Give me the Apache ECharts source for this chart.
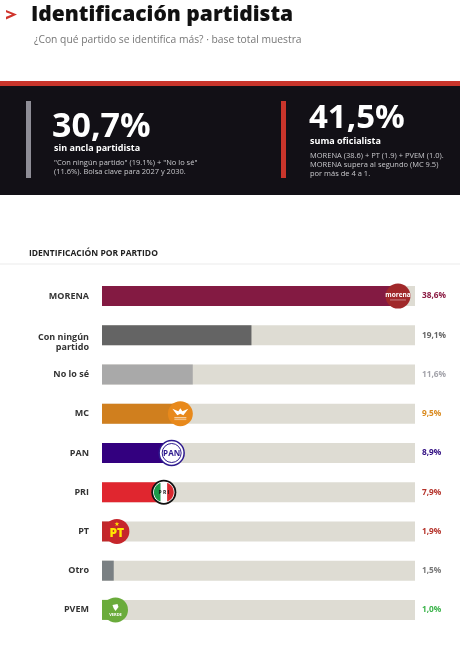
<!DOCTYPE html>
<html lang="es">
<head>
<meta charset="UTF-8">
<title>Identificación partidista</title>
<script src="https://cdn.jsdelivr.net/npm/echarts@6.0.0/dist/echarts.min.js"></script>
<style>
  html, body { margin: 0; padding: 0; background: #fff; }
  #main { width: 460px; height: 647px; }
</style>
</head>
<body>
<div id="main"></div>
<script>
// data
const categories = ['MORENA', 'Con ningún\npartido', 'No lo sé', 'MC', 'PAN', 'PRI', 'PT', 'Otro', 'PVEM'];
const values = [38.6, 19.1, 11.6, 9.5, 8.9, 7.9, 1.9, 1.5, 1.0];
const barColors = ['#831a42', '#646464', '#a9a9a9', '#d07f1e', '#33007f', '#e0262f', '#c0282a', '#7a8083', '#6aab3b'];
const labelColors = ['#8b1a42', '#666666', '#a3a3aa', '#d98a1f', '#2e0a80', '#b5332b', '#b5332b', '#777777', '#3cb44b'];
const logos = ['morena', null, null, 'mc', 'pan', 'pri', 'pt', null, 'pvem'];
const axisMax = 40;

const FONT = '"Open Sans", "Noto Sans", sans-serif';
const chart = echarts.init(document.getElementById('main'));

function fmt(v) {
  return v.toFixed(1).replace('.', ',') + '%';
}

// points of a circle segment cut by a vertical chord at offset d (side -1 left, 1 right)
function segment(cx, cy, r, d, side) {
  const a0 = Math.acos(d / r);
  const pts = [];
  for (let i = 0; i <= 20; i++) {
    const a = side > 0 ? -a0 + (2 * a0 * i) / 20 : a0 + ((2 * Math.PI - 2 * a0) * i) / 20;
    pts.push([cx + r * Math.cos(a), cy + r * Math.sin(a)]);
  }
  return pts;
}

function centered(text, x, y, font, fill) {
  return { type: 'text', style: { text, x, y, fill, font, align: 'center', verticalAlign: 'middle', textAlign: 'center', textVerticalAlign: 'middle' } };
}

function renderLogo(params, api) {
  const idx = api.value(1);
  const kind = logos[idx];
  if (!kind) return;
  const r = 12.5;
  const start = api.coord([0, idx]);
  const end = api.coord([api.value(0), idx]);
  const trackEnd = api.coord([axisMax, idx])[0];
  let cx = Math.min(Math.max(end[0], start[0] + r + 1), trackEnd - 17);
  if (kind === 'mc') cx += 4;
  const cy = end[1];
  const kids = [];
  if (kind === 'morena') {
    kids.push({ type: 'circle', shape: { cx, cy, r }, style: { fill: '#a0282a' } });
    kids.push(centered('morena', cx, cy - 1, 'bold 6.5px ' + FONT, '#fff'));
    kids.push({ type: 'rect', shape: { x: cx - 8, y: cy + 3.5, width: 16, height: 0.7 }, style: { fill: 'rgba(255,255,255,0.6)' } });
  } else if (kind === 'mc') {
    kids.push({ type: 'circle', shape: { cx, cy, r }, style: { fill: '#e8891b' } });
    kids.push({ type: 'polygon', shape: { points: [[cx - 8, cy - 5], [cx - 2, cy - 2.5], [cx, cy - 5.5], [cx + 2, cy - 2.5], [cx + 8, cy - 5], [cx + 3, cy + 1.5], [cx, cy], [cx - 3, cy + 1.5]] }, style: { fill: '#fff' } });
    kids.push({ type: 'rect', shape: { x: cx - 6, y: cy + 3.5, width: 12, height: 1 }, style: { fill: 'rgba(255,255,255,0.8)' } });
    kids.push({ type: 'rect', shape: { x: cx - 6, y: cy + 5.5, width: 12, height: 0.8 }, style: { fill: 'rgba(255,255,255,0.6)' } });
  } else if (kind === 'pan') {
    kids.push({ type: 'circle', shape: { cx, cy, r }, style: { fill: '#fff', stroke: '#2e1a8e', lineWidth: 1.5 } });
    kids.push({ type: 'circle', shape: { cx, cy, r: r - 3 }, style: { fill: '#fff', stroke: '#2e1a8e', lineWidth: 1 } });
    kids.push(centered('PAN', cx, cy + 0.5, 'bold 8px ' + FONT, '#2e1a8e'));
  } else if (kind === 'pri') {
    kids.push({ type: 'circle', shape: { cx, cy, r }, style: { fill: '#111' } });
    kids.push({ type: 'circle', shape: { cx, cy, r: r - 1.8 }, style: { fill: '#fff' } });
    kids.push({ type: 'polygon', shape: { points: segment(cx, cy, r - 2.6, -3.3, -1) }, style: { fill: '#1d9a4a' } });
    kids.push({ type: 'polygon', shape: { points: segment(cx, cy, r - 2.6, 3.3, 1) }, style: { fill: '#d8282e' } });
    kids.push(centered('P R I', cx, cy, 'bold 5px ' + FONT, '#111'));
  } else if (kind === 'pt') {
    kids.push({ type: 'circle', shape: { cx, cy, r }, style: { fill: '#c6262b' } });
    kids.push(centered('PT', cx, cy + 2.5, '900 12px ' + FONT, '#ffe600'));
    kids.push(centered('★', cx, cy - 7, '6px "DejaVu Sans"', '#ffe600'));
  } else if (kind === 'pvem') {
    kids.push({ type: 'circle', shape: { cx, cy, r }, style: { fill: '#6aab3b' } });
    kids.push({ type: 'polygon', shape: { points: [[cx - 3, cy - 5], [cx + 2, cy - 6], [cx + 3, cy - 3], [cx, cy + 1], [cx - 2, cy - 2]] }, style: { fill: '#fff' } });
    kids.push(centered('VERDE', cx, cy + 4.5, 'bold 4px ' + FONT, '#fff'));
  }
  return { type: 'group', children: kids };
}

function txt(text, x, y, font, fill) {
  return { type: 'text', x: x, y: y, style: { text: text, font: font, fill: fill, textVerticalAlign: 'middle', verticalAlign: 'middle' } };
}

// two-line labels sit a little lower than the bar centre in the reference
function catLabel(value) {
  if (value.indexOf('\n') < 0) return '{d|' + value + '}';
  return '{s| }\n' + value.split('\n').map(s => '{d|' + s + '}').join('\n');
}

const option = {
  animation: false,
  backgroundColor: '#fff',
  graphic: [
    { type: 'polygon', shape: { points: [[6, 10], [17, 14.5], [6, 19.5], [6, 16.8], [12, 14.5], [6, 12.2]] }, style: { fill: '#d0342c' } },
    txt('Identificación partidista', 31, 15, '900 21px ' + FONT, '#111'),
    txt('¿Con qué partido se identifica más? · base total muestra', 34, 40, '10.3px ' + FONT, '#777'),
    { type: 'rect', shape: { x: 0, y: 81, width: 460, height: 5 }, style: { fill: '#c9352b' } },
    { type: 'rect', shape: { x: 0, y: 86, width: 460, height: 109 }, style: { fill: '#121016' } },
    { type: 'rect', shape: { x: 26, y: 101, width: 5, height: 77 }, style: { fill: '#8e8d96' } },
    txt('30,7%', 52, 127, 'bold 34px ' + FONT, '#fff'),
    txt('sin ancla partidista', 54, 148, 'bold 9px ' + FONT, '#fff'),
    txt('"Con ningún partido" (19.1%) + "No lo sé"', 54, 163, '7.5px ' + FONT, '#c8c8cc'),
    txt('(11.6%). Bolsa clave para 2027 y 2030.', 54, 172, '7.5px ' + FONT, '#c8c8cc'),
    { type: 'rect', shape: { x: 281, y: 101, width: 5, height: 77 }, style: { fill: '#c9352b' } },
    txt('41,5%', 309, 119, 'bold 33px ' + FONT, '#fff'),
    txt('suma oficialista', 310, 141, 'bold 9px ' + FONT, '#fff'),
    txt('MORENA (38.6) + PT (1.9) + PVEM (1.0).', 310, 156, '7.5px ' + FONT, '#c8c8cc'),
    txt('MORENA supera al segundo (MC 9.5)', 310, 165, '7.5px ' + FONT, '#c8c8cc'),
    txt('por más de 4 a 1.', 310, 174, '7.5px ' + FONT, '#c8c8cc'),
    txt('IDENTIFICACIÓN POR PARTIDO', 29, 254, 'bold 8.5px ' + FONT, '#222'),
    { type: 'rect', shape: { x: 0, y: 263.5, width: 460, height: 1 }, style: { fill: '#ececec' } }
  ],
  grid: { left: 102, right: 45, top: 276.5, bottom: 17.5, containLabel: false },
  xAxis: {
    type: 'value', min: 0, max: axisMax,
    show: false
  },
  yAxis: {
    type: 'category', data: categories, inverse: true,
    axisLine: { show: false }, axisTick: { show: false },
    axisLabel: {
      margin: 13, align: 'right',
      formatter: catLabel,
      rich: {
        d: { color: '#333', fontFamily: FONT, fontWeight: 'bold', fontSize: 9, lineHeight: 10.5, align: 'right' },
        s: { fontSize: 1, height: 14, lineHeight: 14 }
      }
    }
  },
  series: [
    {
      type: 'bar', barWidth: 20, barGap: '-100%',
      data: values.map((v, i) => ({ value: v, itemStyle: { color: barColors[i] } })),
      showBackground: true,
      backgroundStyle: { color: '#dedcd3' },
      silent: true
    },
    {
      type: 'bar', barWidth: 20, barGap: '-100%',
      data: values.map((v, i) => ({ value: axisMax, label: { color: labelColors[i] } })),
      itemStyle: { color: 'rgba(0,0,0,0)' },
      label: {
        show: true, position: 'right', distance: 7,
        fontFamily: FONT, fontWeight: 'bold', fontSize: 8.3,
        formatter: p => fmt(values[p.dataIndex])
      },
      silent: true
    },
    {
      type: 'custom',
      renderItem: renderLogo,
      data: values.map((v, i) => [v, i]),
      encode: { x: 0, y: 1 },
      z: 5,
      silent: true
    }
  ]
};

chart.setOption(option);
</script>
</body>
</html>
